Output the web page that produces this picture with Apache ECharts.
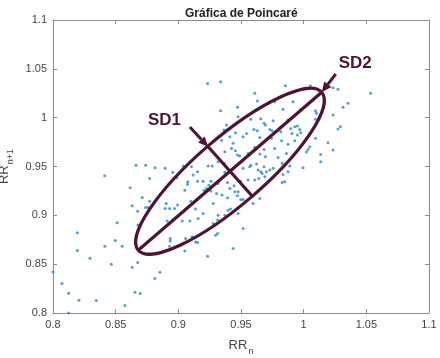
<!DOCTYPE html>
<html>
<head>
<meta charset="utf-8">
<script src="https://cdn.jsdelivr.net/npm/echarts@6/dist/echarts.min.js"></script>
<style>
  html, body { margin: 0; padding: 0; background: #fff; }
  #chart { width: 440px; height: 358px; }
</style>
</head>
<body>
<div id="chart"></div>
<script>
// RR intervals (s): x = RR_n, y = RR_n+1
const rrN = [
  0.8412, 0.8616, 0.8712, 0.8771, 0.8632, 0.8739, 0.8757, 0.8675, 0.8512, 0.8677,
  0.8194, 0.8497, 0.8414, 0.8552, 0.8194, 0.8295, 0.8465, 0.8632, 0.8675, 0.8853,
  0.8813, 0.8072, 0.8125, 0.8207, 0.8345, 0.8654, 0.8696, 0.8574, 0.8125, 0.8000,
  0.8662, 0.8739, 0.8815, 0.8895, 0.8956, 0.8988, 0.8903, 0.8930, 0.8970, 0.8895,
  0.8911, 0.8935, 0.8935, 0.8930, 0.8771,
  0.9153, 0.9238, 0.9270, 0.9371, 0.9517, 0.9570, 0.9636, 0.9658, 0.9668, 0.9703,
  0.9730, 0.9756, 0.9835, 0.9849, 0.9828, 0.9875, 0.8994, 0.9074, 0.9074, 0.9118,
  0.9153, 0.9198, 0.9243, 0.9225, 0.9259, 0.9317, 0.9392, 0.9411, 0.9445, 0.9498,
  0.9557, 0.9610, 0.9642, 0.9690, 0.9052, 0.9206, 0.9259, 0.9305, 0.9349, 0.9392,
  0.9451, 0.9477, 0.9472, 0.9498, 0.9517, 0.9557, 0.9650, 0.9596, 0.9100, 0.8994,
  0.9137, 0.9278, 0.9397, 0.9416, 0.9477, 0.9317, 0.9371, 0.9198, 0.9031, 0.9092,
  0.9158, 0.9313, 0.9278, 0.9291, 0.9517, 0.9313, 0.9297, 0.9058, 0.9110, 0.9124,
  0.9137, 0.9153, 0.9437, 0.9052, 0.9233,
  0.9233, 0.9337, 0.9610, 0.9855, 0.9631, 0.9472, 0.9337, 0.9769, 0.9835, 0.9915,
  0.9477, 0.9578, 0.9658, 0.9684, 0.9695, 0.9756, 0.9875, 0.9929, 0.9384, 0.9365,
  0.9456, 0.9544, 0.9604, 0.9631, 0.9730, 0.9748, 0.9817, 0.9897, 0.9907, 0.9950,
  0.9411, 0.9345, 0.9437, 0.9517, 0.9650, 0.9743, 0.9823, 0.9875, 0.9424, 0.9456,
  0.9371, 0.9610, 0.9684, 0.9769, 0.9863, 0.9472, 0.9490, 0.9557, 0.9650, 0.9695,
  0.9796, 0.9907, 0.9038, 0.9105, 0.9317, 0.9365, 0.9504, 0.9578, 0.9624, 0.9684,
  0.9828, 0.9889,
  1.0054, 1.0234, 1.0274, 1.0534, 1.0354, 1.0314, 0.9977, 1.0094, 1.0102, 1.0094,
  1.0234, 0.9950, 0.9969, 0.9977, 1.0293, 1.0274, 1.0094, 1.0194, 1.0048, 1.0035,
  1.0022, 1.0136, 1.0234, 1.0136, 0.9995, 0.9929
];
const rrN1 = [
  0.9405, 0.9282, 0.9183, 0.9145, 0.9097, 0.9081, 0.9081, 0.9043, 0.8923, 0.8900,
  0.8821, 0.8743, 0.8684, 0.8684, 0.8640, 0.8561, 0.8500, 0.8469, 0.8517, 0.8418,
  0.8353, 0.8302, 0.8203, 0.8131, 0.8128, 0.8213, 0.8200, 0.8077, 0.8001, 0.8421,
  0.9514, 0.9514, 0.9487, 0.9481, 0.9440, 0.9384, 0.9122, 0.9071, 0.9071, 0.9071,
  0.8941, 0.8763, 0.8736, 0.8684, 0.9378,
  0.9446, 0.9504, 0.9504, 0.9440, 0.9481, 0.9497, 0.9463, 0.9446, 0.9429, 0.9446,
  0.9463, 0.9481, 0.9419, 0.9343, 0.9337, 0.9446, 0.9412, 0.9343, 0.9317, 0.9412,
  0.9350, 0.9350, 0.9309, 0.9276, 0.9350, 0.9327, 0.9337, 0.9276, 0.9302, 0.9350,
  0.9361, 0.9361, 0.9378, 0.9394, 0.9258, 0.9258, 0.9248, 0.9224, 0.9207, 0.9179,
  0.9241, 0.9241, 0.9200, 0.9163, 0.9163, 0.9241, 0.9173, 0.9122, 0.9145, 0.9105,
  0.9064, 0.9122, 0.9053, 0.9064, 0.9019, 0.9002, 0.9002, 0.9019, 0.8941, 0.8941,
  0.8968, 0.8951, 0.8917, 0.8900, 0.8866, 0.8815, 0.8797, 0.8763, 0.8780, 0.8770,
  0.8728, 0.8722, 0.8661, 0.8636, 0.8582,
  1.0351, 1.0368, 1.0249, 1.0327, 1.0170, 1.0106, 1.0071, 1.0163, 1.0085, 1.0163,
  1.0009, 0.9983, 0.9989, 0.9942, 0.9924, 0.9968, 0.9975, 0.9907, 0.9924, 0.9873,
  0.9845, 0.9839, 0.9880, 0.9866, 0.9880, 0.9866, 0.9856, 0.9890, 0.9839, 0.9822,
  0.9804, 0.9770, 0.9737, 0.9804, 0.9798, 0.9788, 0.9763, 0.9729, 0.9685, 0.9661,
  0.9651, 0.9696, 0.9675, 0.9685, 0.9634, 0.9617, 0.9607, 0.9634, 0.9627, 0.9600,
  0.9593, 0.9600, 0.9504, 0.9497, 0.9548, 0.9532, 0.9548, 0.9514, 0.9525, 0.9497,
  0.9532, 0.9504,
  1.0327, 1.0306, 1.0290, 1.0249, 1.0147, 1.0106, 1.0085, 1.0071, 1.0044, 0.9983,
  1.0027, 0.9914, 0.9880, 0.9845, 0.9907, 0.9883, 0.9788, 0.9743, 0.9702, 0.9675,
  0.9648, 0.9624, 0.9668, 0.9548, 0.9487, 0.9763
];

// ellipse: ends of the major (SD2) and minor (SD1) axes
const sd2Axis = [[0.8680, 0.8643], [1.0144, 1.0260]];
const sd1Axis = [[0.9238, 0.9702], [0.9594, 0.9190]];

// labels + arrows
const sdNames = ['SD1', 'SD2'];
const sdLabelAt = [[0.8889, 0.9975], [1.0411, 1.0556]];
const sdArrowFrom = [[0.9092, 0.9904], [1.0256, 1.0447]];
const sdArrowTo = [[0.9238, 0.9702], [1.0144, 1.0260]];

const ticks = [0.8, 0.85, 0.9, 0.95, 1, 1.05, 1.1];

const maroon = '#4e1434';
const points = rrN.map((x, i) => [x, rrN1[i]]);

const chart = echarts.init(document.getElementById('chart'));

const axisCommon = {
  type: 'value',
  min: ticks[0],
  max: ticks[ticks.length - 1],
  interval: 0.05,
  splitLine: { show: false },
  axisLine: { show: true, lineStyle: { color: '#8c8c8c', width: 1 } },
  axisTick: { show: true, inside: true, length: 4, lineStyle: { color: '#8c8c8c' } },
};

const nameRich = {
  a: { fontSize: 13, color: '#444', fontFamily: 'Liberation Sans', lineHeight: 18 },
  b: { fontSize: 9, color: '#444', fontFamily: 'Liberation Sans', padding: [12, 0, 0, 1], lineHeight: 18 },
};

const option = {
  animation: false,
  backgroundColor: '#fff',
  title: {
    text: 'Gráfica de Poincaré',
    left: 180,
    top: 3,
    textStyle: { fontSize: 12, fontWeight: 'bold', color: '#222', fontFamily: 'Liberation Sans' },
  },
  grid: { left: 53, right: 11, top: 20, bottom: 45, containLabel: false, outerBoundsMode: 'none' },
  xAxis: [
    {
      ...axisCommon,
      position: 'bottom',
      axisLabel: { color: '#444', fontSize: 11, margin: 6, fontFamily: 'Liberation Sans' },
      name: '{a|RR}{b|n}',
      nameLocation: 'middle',
      nameGap: 18,
      nameTextStyle: { rich: nameRich },
    },
    {
      ...axisCommon,
      position: 'top',
      axisLabel: { show: false },
    },
  ],
  yAxis: [
    {
      ...axisCommon,
      position: 'left',
      axisLabel: { color: '#444', fontSize: 11, margin: 6, fontFamily: 'Liberation Sans' },
      name: '{a|RR}{b|n+1}',
      nameLocation: 'middle',
      nameRotate: 90,
      nameGap: 31,
      nameTextStyle: { rich: nameRich },
    },
    {
      ...axisCommon,
      position: 'right',
      axisLabel: { show: false },
    },
  ],
  series: [
    {
      type: 'scatter',
      data: points,
      symbol: 'circle',
      symbolSize: 3,
      itemStyle: { color: '#2d86c6' },
    },
    {
      // the SD1/SD2 ellipse
      type: 'custom',
      data: [[...sd2Axis[0], ...sd2Axis[1], ...sd1Axis[0], ...sd1Axis[1]]],
      renderItem(params, api) {
        const a = api.coord([api.value(0), api.value(1)]);
        const b = api.coord([api.value(2), api.value(3)]);
        const c = api.coord([api.value(4), api.value(5)]);
        const d = api.coord([api.value(6), api.value(7)]);
        const cx = (a[0] + b[0]) / 2;
        const cy = (a[1] + b[1]) / 2;
        const rx = Math.hypot(b[0] - a[0], b[1] - a[1]) / 2;
        const ry = Math.hypot(d[0] - c[0], d[1] - c[1]) / 2;
        const rot = Math.atan2(a[1] - b[1], b[0] - a[0]);
        const st = { stroke: maroon, lineWidth: 3.2, fill: null };
        return {
          type: 'group',
          children: [
            { type: 'ellipse', x: cx, y: cy, rotation: rot, shape: { cx: 0, cy: 0, rx, ry }, style: st },
            { type: 'line', shape: { x1: a[0], y1: a[1], x2: b[0], y2: b[1] }, style: st },
            { type: 'line', shape: { x1: c[0], y1: c[1], x2: d[0], y2: d[1] }, style: st },
          ],
        };
      },
      z: 3,
    },
    {
      // arrows + SD labels
      type: 'custom',
      data: sdNames.map((n, i) => [
        sdArrowFrom[i][0], sdArrowFrom[i][1], sdArrowTo[i][0], sdArrowTo[i][1],
        sdLabelAt[i][0], sdLabelAt[i][1], n,
      ]),
      renderItem(params, api) {
        const p0 = api.coord([api.value(0), api.value(1)]);
        const p1 = api.coord([api.value(2), api.value(3)]);
        const lp = api.coord([api.value(4), api.value(5)]);
        const ang = Math.atan2(p1[1] - p0[1], p1[0] - p0[0]);
        const len = 10;
        const w = 4.5;
        const bx = p1[0] - len * Math.cos(ang);
        const by = p1[1] - len * Math.sin(ang);
        const nx = -Math.sin(ang);
        const ny = Math.cos(ang);
        return {
          type: 'group',
          children: [
            { type: 'line', shape: { x1: p0[0], y1: p0[1], x2: bx, y2: by }, style: { stroke: maroon, lineWidth: 3 } },
            {
              type: 'polygon',
              shape: { points: [[p1[0], p1[1]], [bx + nx * w, by + ny * w], [bx - nx * w, by - ny * w]] },
              style: { fill: maroon },
            },
            {
              type: 'text',
              x: lp[0],
              y: lp[1],
              style: {
                text: api.value(6),
                fill: maroon,
                font: 'bold 17px "Liberation Sans", sans-serif',
                align: 'center',
                verticalAlign: 'middle',
              },
            },
          ],
        };
      },
      z: 4,
    },
  ],
};

chart.setOption(option);
</script>
</body>
</html>
